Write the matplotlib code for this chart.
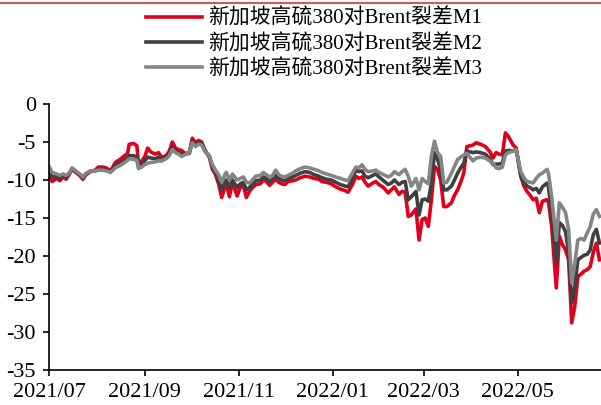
import numpy as np
import pandas as pd
import matplotlib
matplotlib.use("Agg")
import matplotlib.pyplot as plt
import matplotlib.dates as mdates
from matplotlib.lines import Line2D

plt.rcParams['font.family'] = ['Liberation Serif', 'Noto Sans CJK SC']
plt.rcParams['axes.unicode_minus'] = False

# days since 2021-07-01
days = [0, 2, 5, 7, 9, 11, 13, 15, 18, 20, 22, 24, 27, 30, 32, 35, 37, 40, 43, 46,
        49, 51, 52, 55, 57, 58, 60, 62, 64, 66, 69, 71, 73, 76, 78, 80, 82, 84, 86, 88,
        91, 93, 95, 97, 99, 101, 104, 106, 108, 110, 112, 114, 115, 117, 119, 122, 124, 126, 128, 130,
        132, 134, 137, 139, 141, 143, 145, 147, 149, 151, 153, 155, 158, 160, 163, 166, 169, 172, 175, 177,
        180, 183, 186, 189, 192, 194, 197, 199, 201, 203, 205, 207, 210, 212, 214, 217, 220, 222, 224, 227,
        229, 231, 233, 235, 238, 240, 242, 244, 246, 248, 250, 252, 254, 256, 258, 261, 263, 265, 267, 269,
        271, 273, 275, 277, 280, 283, 286, 288, 290, 292, 294, 296, 298, 301, 303, 306, 308, 310, 312, 314,
        316, 318, 320, 323, 324, 326, 329, 331, 333, 335, 337, 339, 341, 343, 345, 347, 349, 351, 353, 355,
        357]

m1 = [-9.3, -10.2, -9.8, -10.1, -9.6, -9.9, -9.3, -8.6, -9.1, -9.4, -9.9, -9.3, -8.9, -8.7, -8.3, -8.3, -8.4, -8.8, -7.7, -7.3,
      -6.8, -6.5, -5.3, -5.2, -5.5, -7.8, -7.5, -7.0, -5.8, -6.3, -6.6, -6.4, -7.0, -6.8, -6.2, -5.0, -5.8, -6.0, -6.1, -6.5,
      -6.4, -4.5, -5.1, -4.8, -5.0, -6.0, -7.0, -8.6, -9.3, -10.5, -12.3, -11.0, -10.5, -12.2, -10.3, -12.1, -11.0, -10.7, -12.3, -11.5,
      -11.0, -10.6, -10.5, -10.0, -10.2, -10.7, -10.3, -9.9, -10.3, -10.5, -10.6, -10.2, -10.1, -10.0, -9.7, -9.5, -9.6, -9.8, -9.9, -10.2,
      -10.3, -10.5, -10.9, -11.2, -11.4, -11.6, -10.5, -9.5, -9.8, -9.6, -10.3, -10.8, -10.4, -10.2, -10.6, -11.0, -11.7, -11.3, -10.9, -11.9,
      -11.5, -11.6, -14.8, -14.6, -13.8, -17.9, -15.2, -15.0, -16.1, -12.6, -8.2, -8.6, -10.0, -13.5, -13.5, -13.0, -12.0, -11.3, -10.3, -9.1,
      -5.6, -5.5, -5.4, -5.1, -5.3, -5.6, -6.3, -7.1, -6.4, -6.6, -6.7, -3.8, -4.3, -5.4, -5.8, -9.5, -10.8, -11.5, -12.0, -12.6,
      -12.4, -14.3, -12.8, -12.6, -13.0, -16.1, -24.2, -17.4, -18.5, -19.2, -20.5, -28.8, -26.6, -22.7, -22.4, -22.0, -21.8, -21.4, -19.5, -18.3,
      -20.5]

m2 = [-8.8, -9.6, -9.5, -9.8, -9.4, -9.6, -9.2, -8.5, -9.0, -9.3, -9.7, -9.2, -8.8, -8.8, -8.6, -8.6, -8.7, -8.9, -8.1, -7.8,
      -7.3, -7.1, -6.8, -6.8, -7.0, -8.2, -7.9, -7.5, -7.0, -7.1, -7.2, -7.0, -7.3, -7.0, -6.5, -5.7, -6.2, -6.4, -6.6, -6.6,
      -6.5, -4.9, -5.4, -5.1, -5.2, -6.1, -6.9, -8.3, -9.0, -10.0, -11.3, -10.4, -10.0, -11.0, -10.0, -11.0, -10.5, -10.3, -11.3, -11.0,
      -10.5, -10.1, -10.0, -9.6, -9.8, -10.2, -9.9, -9.4, -9.8, -10.0, -10.1, -9.8, -9.6, -9.4, -9.1, -8.9, -9.0, -9.3, -9.5, -9.7,
      -9.9, -10.0, -10.3, -10.6, -10.8, -10.9, -9.7, -8.7, -8.9, -8.8, -9.5, -9.7, -9.4, -9.2, -9.6, -10.1, -10.6, -10.4, -10.0, -10.6,
      -10.3, -10.2, -12.6, -12.2, -11.5, -14.6, -12.6, -12.5, -12.8, -10.4, -6.4, -7.3, -8.6, -11.3, -11.3, -10.8, -10.0, -9.1, -8.4, -7.8,
      -6.2, -6.3, -6.4, -6.3, -6.4, -6.6, -7.2, -8.0, -7.9, -7.9, -7.8, -6.2, -6.1, -6.2, -6.0, -9.5, -10.3, -10.8, -11.0, -11.3,
      -11.1, -11.7, -10.9, -10.4, -11.0, -14.3, -20.9, -15.6, -16.0, -16.8, -19.6, -26.2, -24.0, -20.5, -20.2, -19.9, -19.8, -19.2, -17.2, -16.5,
      -18.3]

m3 = [-8.2, -9.0, -9.2, -9.4, -9.2, -9.4, -9.1, -8.4, -8.9, -9.2, -9.6, -9.1, -8.8, -8.8, -8.7, -8.7, -8.8, -9.0, -8.4, -8.1,
      -7.7, -7.4, -7.2, -7.3, -7.4, -8.5, -8.3, -8.0, -7.8, -7.7, -7.6, -7.5, -7.5, -7.2, -6.8, -6.0, -6.4, -6.6, -6.9, -6.7,
      -6.4, -5.1, -5.6, -5.3, -5.4, -6.2, -6.8, -8.0, -8.7, -9.3, -10.3, -9.3, -9.0, -10.0, -9.2, -10.0, -9.8, -9.6, -10.3, -10.4,
      -10.0, -9.5, -9.4, -9.0, -9.3, -9.6, -9.4, -8.7, -9.3, -9.5, -9.6, -9.4, -9.1, -8.8, -8.5, -8.3, -8.4, -8.6, -8.8, -9.0,
      -9.2, -9.4, -9.6, -9.8, -10.0, -10.1, -9.0, -8.3, -8.4, -8.0, -8.6, -8.9, -8.8, -8.7, -9.0, -9.3, -9.6, -9.4, -8.9, -9.3,
      -8.9, -8.6, -9.5, -10.8, -9.8, -11.3, -9.8, -10.2, -10.5, -6.9, -4.9, -6.4, -6.9, -10.4, -10.3, -9.1, -8.2, -7.3, -7.0, -6.7,
      -6.5, -7.0, -7.5, -7.1, -7.0, -7.1, -7.5, -7.8, -8.4, -8.5, -8.3, -6.7, -6.4, -6.2, -6.0, -8.9, -9.7, -10.2, -10.3, -10.4,
      -9.8, -9.3, -9.1, -8.6, -9.2, -12.2, -17.9, -13.0, -13.6, -14.3, -16.5, -23.5, -21.0, -17.9, -17.7, -17.9, -17.0, -16.1, -14.5, -13.9,
      -14.8]

labels = ['新加坡高硫380对Brent裂差M1', '新加坡高硫380对Brent裂差M2', '新加坡高硫380对Brent裂差M3']
colors = ['#E0001B', '#404040', '#858585']

start = pd.Timestamp('2021-07-01')
dates = start + pd.to_timedelta(days, unit='D')

fig = plt.figure(figsize=(6.01, 4.05), dpi=100)
ax = fig.add_axes([49 / 601, 35 / 405, 1 - 49 / 601, 266 / 405])

for series, lab, col in zip([m1, m2, m3], labels, colors):
    ax.plot(dates, series, color=col, lw=2.6, label=lab)

ax.set_ylim(-35, 0)
ax.set_yticks(np.arange(-35, 1, 5))
ax.set_xlim(start, start + pd.Timedelta(days=358))
ax.xaxis.set_major_locator(mdates.MonthLocator(bymonth=[1, 3, 5, 7, 9, 11]))
ax.xaxis.set_major_formatter(mdates.DateFormatter('%Y/%m'))

for s in ['top', 'right']:
    ax.spines[s].set_visible(False)
for s in ['left', 'bottom']:
    ax.spines[s].set_linewidth(1.2)
ax.tick_params(axis='both', direction='out', length=4.5, width=1.2, labelsize=16, pad=5)

fig.legend(loc='upper left', bbox_to_anchor=(146 / 601, 1 - 9 / 405), frameon=False,
           fontsize=15, handlelength=2.7, handletextpad=0.3, labelspacing=0.25,
           borderpad=0, borderaxespad=0)

fig.add_artist(Line2D([0, 1], [1 - 2.5 / 405, 1 - 2.5 / 405], transform=fig.transFigure,
                      color='#C06060', lw=1.6))

fig.savefig('out.png', dpi=100)
